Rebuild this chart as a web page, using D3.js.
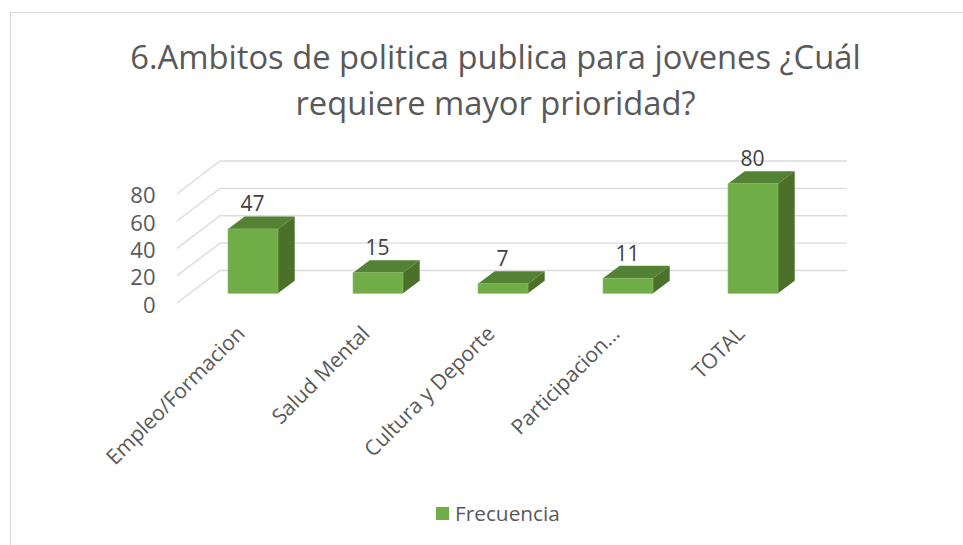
<!DOCTYPE html>
<html><head><meta charset="utf-8">
<script src="https://cdnjs.cloudflare.com/ajax/libs/d3/7.8.5/d3.min.js"></script>
<style>html,body{margin:0;padding:0;background:#fff}svg{display:block}text{font-family:"Open Sans",Lato,sans-serif}</style>
</head><body><svg id="c" width="963" height="545"></svg>
<script>
const categories = ["Empleo/Formacion","Salud Mental","Cultura y Deporte","Participacion...","TOTAL"];
const values = [47,15,7,11,80];
const yTicks = [0,20,40,60,80];
const titleLines = ["6.Ambitos de politica publica para jovenes ¿Cuál","requiere mayor prioridad?"];
const seriesName = "Frecuencia";

const svg = d3.select("#c");
const W=963,H=545;
svg.append("path").attr("d",`M10.5,${H}V12.5H${W}`).attr("fill","none").attr("stroke","#d9d9d9").attr("stroke-width",1.2);

svg.selectAll("text.title").data(titleLines).join("text").attr("class","title")
  .attr("x",495.5).attr("y",(d,i)=>69+i*46).attr("text-anchor","middle")
  .attr("font-size",32.7).attr("fill","#595959").text(d=>d);

const x = d3.scaleBand().domain(categories).range([190.5,815.5]).paddingInner(0.6).paddingOuter(0.3);
const yBar = d3.scaleLinear().domain([0,80]).range([293.3,183.7]);
const yBack = d3.scaleLinear().domain([0,80]).range([270.5,161]);
const yFront = d3.scaleLinear().domain([0,80]).range([303,193.7]);
const wallL=220, wallR=847, frontL=177, dx=16.7, dy=12.5;

const grid = svg.append("g").attr("fill","none").attr("stroke","#dcdcdc").attr("stroke-width",1.4);
grid.selectAll("path").data(yTicks).join("path")
  .attr("d",d=>`M${frontL},${yFront(d)}L${wallL},${yBack(d)}H${wallR}`);

const axis = svg.append("g").attr("transform",`translate(155.5,2)`)
  .call(d3.axisLeft(yFront).tickValues(yTicks).tickSize(0).tickPadding(0));
axis.select(".domain").remove();
axis.selectAll("text").attr("font-size",22).attr("fill","#595959").attr("font-family","Open Sans").attr("text-anchor","end");

const bars = svg.append("g").selectAll("g").data(values).join("g");
const cat=(i)=>categories[i];
bars.append("path").attr("fill","#548235")
  .attr("d",(d,i)=>{const l=x(cat(i)),w=x.bandwidth(),t=yBar(d);return `M${l},${t}l${dx},${-dy}h${w}l${-dx},${dy}z`;});
bars.append("path").attr("fill","#4a7029")
  .attr("d",(d,i)=>{const r=x(cat(i))+x.bandwidth(),t=yBar(d),b=yBar(0);return `M${r},${t}l${dx},${-dy}V${b-dy}L${r},${b}z`;});
bars.append("rect").attr("fill","#70ad47").attr("stroke","#8cbd6c").attr("stroke-width",0.6)
  .attr("x",(d,i)=>x(cat(i))).attr("width",x.bandwidth())
  .attr("y",d=>yBar(d)).attr("height",d=>yBar(0)-yBar(d));
bars.append("text").attr("text-anchor","middle").attr("font-size",21).attr("fill","#404040")
  .attr("x",(d,i)=>x(cat(i))+x.bandwidth()/2-0.5)
  .attr("y",d=>yBar(d)-dy-5).text(d=>d);

svg.append("g").selectAll("text").data(categories).join("text")
  .attr("text-anchor","end").attr("font-size",21).attr("fill","#595959")
  .attr("transform",d=>`translate(${x(d)+x.bandwidth()/2-7},${335}) rotate(-45)`)
  .text(d=>d);

svg.append("rect").attr("x",436).attr("y",507).attr("width",13).attr("height",13).attr("fill","#70ad47");
svg.append("text").attr("x",455).attr("y",521).attr("font-size",20.8).attr("fill","#595959").text(seriesName);
</script></body></html>
